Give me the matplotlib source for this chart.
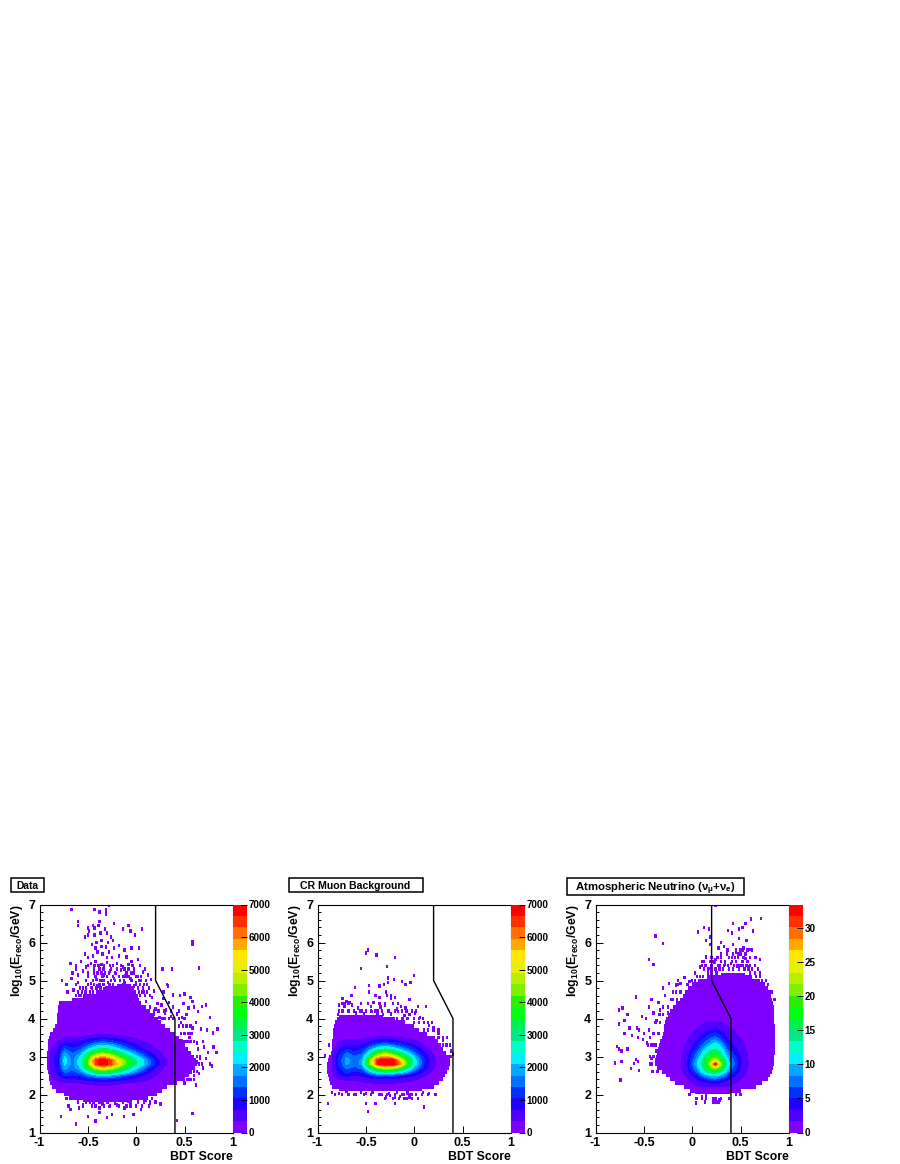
import numpy as np
import matplotlib as mpl
mpl.use('Agg')
import matplotlib.pyplot as plt
import matplotlib.ticker as ticker
from matplotlib.patches import Rectangle

mpl.rcParams['font.family'] = 'Liberation Sans'
mpl.rcParams['font.weight'] = 'bold'
mpl.rcParams['mathtext.fontset'] = 'custom'
mpl.rcParams['mathtext.rm'] = 'Liberation Sans:bold'
mpl.rcParams['mathtext.it'] = 'Liberation Sans:bold'
mpl.rcParams['mathtext.bf'] = 'Liberation Sans:bold'
mpl.rcParams['mathtext.fallback'] = 'cm'

# ROOT palette, one colour per contour band (bottom to top of the colour bar)
palette = ['#7F00FF', '#5000FF', '#2000FF', '#0030FF', '#0070FF', '#00A8FF', '#00F0FF',
           '#00FFC8', '#00E888', '#00F050', '#00FF10', '#28F000', '#80F000', '#B8F000',
           '#E8F000', '#FFE800', '#FFA800', '#FF7000', '#FF3000', '#FF0000']

cut_x = [0.2, 0.2, 0.4, 0.4]
cut_y = [7, 5, 4, 1]

# --- Data ---
data_rows = [4.9, 4.8, 4.7, 4.6, 4.5, 4.4, 4.3, 4.2, 4.1, 4.0, 3.9, 3.8, 3.7, 3.6, 3.5, 3.4, 3.3, 3.2, 3.1,
             3.0, 2.9, 2.8, 2.7, 2.6, 2.5, 2.4, 2.3, 2.2, 2.1, 2.0, 1.9, 1.8]
data_left = [-0.2, -0.32, -0.42, -0.55, -0.66, -0.8, -0.81, -0.81, -0.82, -0.82, -0.82, -0.84, -0.86, -0.89, -0.9, -0.91,
             -0.91, -0.91, -0.92, -0.92, -0.92, -0.92, -0.92, -0.91, -0.9, -0.9, -0.89, -0.87, -0.83, -0.75, -0.7, -0.55]
data_right = [-0.05, -0.02, 0.0, 0.02, 0.03, 0.05, 0.1, 0.14, 0.18, 0.22, 0.26, 0.3, 0.35, 0.4, 0.44, 0.48,
              0.5, 0.53, 0.57, 0.6, 0.62, 0.62, 0.61, 0.58, 0.55, 0.5, 0.42, 0.32, 0.27, 0.21, 0.12, -0.1]
data_xc = [-0.9, -0.8, -0.74, -0.66, -0.58, -0.5, -0.42, -0.34, -0.26, -0.18, -0.1, -0.02, 0.06, 0.14, 0.22, 0.3, 0.4]
data_yc = [2.2, 2.3, 2.4, 2.5, 2.6, 2.7, 2.8, 2.9, 3.0, 3.1, 3.2, 3.3, 3.4, 3.5, 3.6]
data_z = [
    [100, 150, 180, 180, 200, 250, 280, 300, 280, 250, 220, 180, 150, 120, 100, 80, 50],
    [150, 250, 300, 300, 350, 400, 420, 450, 420, 380, 340, 300, 250, 200, 160, 120, 60],
    [200, 500, 650, 650, 700, 850, 950, 1000, 950, 850, 750, 620, 480, 350, 220, 140, 80],
    [250, 700, 1100, 1000, 1100, 1500, 1900, 2100, 1900, 1600, 1250, 950, 700, 480, 300, 180, 90],
    [280, 800, 1500, 1300, 1600, 2500, 3300, 3600, 3300, 2900, 2400, 1800, 1200, 750, 450, 220, 100],
    [300, 900, 1900, 1500, 2100, 3400, 4800, 5300, 4900, 4100, 3200, 2400, 1700, 1000, 550, 280, 120],
    [320, 950, 2200, 1600, 2300, 4000, 6400, 7000, 6400, 5200, 4000, 3000, 2300, 1500, 800, 400, 150],
    [320, 1000, 2300, 1600, 2300, 4000, 6500, 7000, 6300, 5000, 4000, 3000, 2300, 1500, 800, 400, 150],
    [300, 950, 2100, 1500, 2100, 3500, 5300, 5600, 5000, 4100, 3200, 2400, 1700, 1000, 550, 280, 110],
    [280, 800, 1800, 1350, 1700, 2800, 3800, 4200, 3700, 3000, 2400, 1800, 1200, 750, 450, 220, 90],
    [250, 650, 1400, 1100, 1300, 2000, 2700, 3000, 2700, 2100, 1600, 1100, 750, 480, 290, 170, 80],
    [200, 500, 1000, 850, 950, 1400, 1900, 2100, 1900, 1500, 1100, 800, 540, 360, 220, 130, 60],
    [150, 380, 650, 600, 650, 900, 1200, 1300, 1150, 950, 720, 520, 360, 250, 160, 100, 50],
    [100, 200, 350, 330, 360, 500, 620, 650, 600, 500, 400, 300, 220, 150, 100, 60, 30],
    [50, 100, 150, 150, 170, 220, 260, 280, 250, 220, 170, 130, 90, 60, 40, 30, 20],
]
data_px = [-0.67, -0.43, -0.38, -0.31, -0.31, -0.24, -0.28, -0.6, -0.6, -0.5, -0.49, -0.5, -0.53, -0.45, -0.43, -0.39, -0.38, -0.43,
           -0.37, -0.32, -0.3, -0.26, -0.23, -0.14, -0.08, -0.06, 0.06, -0.01, -0.24, -0.29, -0.36, -0.41, -0.46, -0.42, -0.36, -0.31,
           -0.28, -0.23, -0.18, -0.12, -0.05, 0.03, -0.53, -0.5, -0.45, -0.4, -0.35, -0.3, -0.25, -0.18, -0.1, -0.05, 0.02, 0.58, 0.58,
           0.65, 0.27, 0.37, 0.32, -0.68, -0.62, -0.57, -0.52, -0.47, -0.42, -0.36, -0.3, -0.24, -0.2, -0.14, -0.08, -0.02, 0.04, 0.09,
           -0.66, -0.6, -0.55, -0.5, -0.44, -0.38, -0.33, -0.27, -0.21, -0.16, -0.11, -0.05, 0.02, 0.07, 0.12, -0.77, -0.72, -0.67, -0.6,
           -0.52, -0.47, -0.41, -0.35, -0.29, -0.23, -0.17, -0.12, -0.06, 0.0, 0.05, 0.11, 0.15, -0.71, -0.65, -0.58, -0.53, -0.47, -0.4,
           -0.33, -0.27, -0.2, -0.14, -0.07, -0.02, 0.08, 0.13, 0.18,
           # right tail
           0.1, 0.16, 0.22, 0.28, 0.34, 0.14, 0.2, 0.26, 0.31, 0.38, 0.44, 0.49, 0.54, 0.18, 0.24, 0.3, 0.36, 0.42, 0.47, 0.52, 0.6, 0.64,
           0.28, 0.33, 0.38, 0.45, 0.5, 0.56, 0.58, 0.68, 0.72, 0.76, 0.46, 0.52, 0.58, 0.62, 0.67, 0.73, 0.79, 0.84, 0.55, 0.63, 0.69,
           0.64, 0.7, 0.74, 0.8, 0.83, 0.66, 0.72, 0.76, 0.63, 0.69, 0.78, 0.6, 0.65, 0.55, 0.62, 0.5, 0.48, 0.42, 0.58,
           # bottom fringe
           -0.78, -0.7, -0.68, -0.62, -0.59, -0.5, -0.42, -0.38, -0.38, -0.3, -0.25, -0.13, -0.03, 0.05, 0.25, 0.14, -0.55, -0.48, -0.42,
           -0.35, -0.28, -0.2, -0.12, -0.06, 0.02, 0.1, -0.52, -0.45, -0.36, -0.29, -0.22, -0.15, -0.08, 0.0, 0.08, 0.15]
data_py = [6.87, 6.87, 6.8, 6.85, 6.75, 7.0, 6.98, 6.55, 6.45, 6.38, 6.3, 6.2, 6.15, 6.45, 6.38, 6.45, 6.55, 6.2,
           6.25, 6.35, 6.25, 6.15, 6.5, 6.35, 6.45, 6.3, 6.35, 6.2, 6.05, 6.0, 6.05, 6.0, 5.95, 5.85, 5.9, 5.88,
           5.75, 5.85, 5.92, 5.8, 5.85, 5.85, 5.7, 5.6, 5.65, 5.75, 5.7, 5.6, 5.6, 5.65, 5.62, 5.5, 5.55, 6.02, 5.95,
           5.33, 5.3, 5.3, 4.9, 5.45, 5.4, 5.5, 5.35, 5.45, 5.5, 5.42, 5.48, 5.4, 5.45, 5.35, 5.42, 5.3, 5.4, 5.3,
           5.2, 5.15, 5.25, 5.1, 5.2, 5.3, 5.15, 5.25, 5.18, 5.28, 5.12, 5.2, 5.1, 5.22, 5.15, 5.0, 4.9, 5.05, 4.95,
           5.0, 4.92, 5.02, 5.0, 4.95, 5.05, 5.0, 4.93, 5.05, 4.95, 5.0, 4.9, 5.02, 4.7, 4.75, 4.8, 4.7, 4.82, 4.85,
           4.78, 4.9, 4.82, 4.88, 4.8, 4.85, 4.7, 4.8, 4.72,
           4.45, 4.55, 4.4, 4.52, 4.42, 4.3, 4.25, 4.35, 4.22, 4.3, 4.2, 4.4, 4.28, 4.1, 4.02, 4.15, 4.05, 4.12, 4.02, 4.1, 4.3, 4.18,
           4.7, 4.85, 4.62, 4.6, 4.65, 4.55, 4.45, 4.32, 4.35, 4.02, 3.9, 3.8, 3.75, 3.9, 3.72, 3.7, 3.62, 3.72, 3.5, 3.35, 3.4,
           3.2, 3.25, 3.1, 3.25, 3.1, 2.95, 2.95, 2.8, 2.85, 2.7, 2.75, 2.5, 2.55, 2.4, 2.25, 2.3, 2.42,
           1.32, 1.5, 1.42, 1.7, 1.6, 1.22, 1.65, 1.42, 1.3, 1.52, 1.65, 1.4, 1.48, 1.42, 1.48, 1.6, 1.75, 1.78, 1.72,
           1.8, 1.7, 1.75, 1.68, 1.72, 1.65, 1.7, 1.9, 1.85, 1.88, 1.8, 1.85, 1.8, 1.78, 1.85, 1.82, 1.9]
# sparse cells along the body edge, one list per log10(E) row
data_fringe_y = [5.4, 5.3, 5.2, 5.1, 5.0, 4.9, 4.8, 4.7, 4.6, 4.2, 4.0, 3.8, 3.6, 3.4, 3.0, 2.8, 2.6, 2.4, 1.9, 1.8, 1.7]
data_fringe_x = [[-0.5, -0.43, -0.39, -0.33, -0.27, -0.16, -0.04],
                 [-0.62, -0.44, -0.38, -0.34, -0.26, -0.2, -0.12, -0.08],
                 [-0.5, -0.4, -0.36, -0.32, -0.28, -0.22, -0.1, -0.03],
                 [-0.42, -0.35, -0.3, -0.24, -0.18, -0.14, -0.08, 0.0, 0.05],
                 [-0.45, -0.37, -0.33, -0.26, -0.22, -0.17, -0.13, -0.05, 0.03, 0.1],
                 [-0.62, -0.5, -0.44, -0.38, -0.34, -0.28, -0.24, 0.0, 0.04, 0.08],
                 [-0.55, -0.52, -0.46, -0.41, -0.37, 0.02, 0.07],
                 [-0.6, -0.56, -0.52, -0.48, -0.45, 0.03, 0.06, 0.11],
                 [-0.62, -0.59, -0.57, 0.04, 0.09, 0.14],
                 [0.18, 0.23, 0.29, 0.36],
                 [0.27, 0.3, 0.34, 0.38, 0.44, 0.5],
                 [0.44, 0.48, 0.52, 0.56],
                 [0.46, 0.5, 0.54, 0.57],
                 [0.5, 0.53, 0.56, 0.6],
                 [0.63, 0.66],
                 [0.62, 0.65, 0.68],
                 [0.6, 0.63],
                 [0.53, 0.56, 0.6],
                 [-0.72, -0.66, -0.6, -0.54, -0.48, -0.3, -0.2, -0.02, 0.05, 0.16],
                 [-0.6, -0.52, -0.44, -0.38, -0.3, -0.22, -0.14, -0.06, 0.02, 0.08, 0.14, 0.2],
                 [-0.55, -0.46, -0.33, -0.27, -0.18, -0.1, 0.0, 0.06, 0.13]]

# --- CR Muon Background ---
muon_rows = [4.1, 4.0, 3.9, 3.8, 3.7, 3.6, 3.5, 3.4, 3.3, 3.2, 3.1, 3.0, 2.9, 2.8, 2.7, 2.6, 2.5, 2.4, 2.3, 2.2, 2.1]
muon_left = [-0.78, -0.8, -0.82, -0.83, -0.84, -0.84, -0.84, -0.85, -0.85, -0.85, -0.86, -0.88, -0.89, -0.9, -0.9, -0.9, -0.89, -0.88, -0.87, -0.85, -0.78]
muon_right = [-0.32, -0.2, -0.1, 0.0, 0.05, 0.13, 0.18, 0.25, 0.28, 0.3, 0.33, 0.37, 0.37, 0.37, 0.36, 0.34, 0.32, 0.3, 0.26, 0.2, 0.08]
muon_xc = [-0.85, -0.78, -0.7, -0.62, -0.54, -0.46, -0.38, -0.3, -0.22, -0.14, -0.06, 0.02, 0.1, 0.18, 0.26, 0.34]
muon_yc = [2.2, 2.3, 2.4, 2.5, 2.6, 2.7, 2.8, 2.9, 3.0, 3.1, 3.2, 3.3, 3.4, 3.5, 3.6]
muon_z = [
    [60, 90, 100, 120, 130, 150, 170, 180, 170, 160, 140, 120, 90, 70, 50, 30],
    [120, 200, 220, 250, 300, 340, 370, 380, 360, 320, 280, 220, 170, 110, 60, 30],
    [180, 340, 400, 380, 450, 560, 620, 650, 620, 560, 450, 360, 240, 150, 80, 40],
    [250, 600, 800, 650, 750, 1000, 1250, 1300, 1200, 1050, 850, 620, 400, 220, 110, 50],
    [280, 800, 1200, 1000, 1100, 2000, 2700, 3000, 2800, 2300, 1800, 1100, 650, 330, 150, 60],
    [300, 950, 1500, 1300, 1500, 3000, 4300, 4800, 4700, 3900, 2800, 1700, 900, 430, 180, 70],
    [320, 1100, 1800, 1500, 1900, 4200, 6600, 7000, 7000, 5800, 3600, 2100, 1050, 500, 220, 90],
    [320, 1100, 1900, 1600, 1800, 4300, 6700, 7000, 6900, 5400, 3500, 2100, 1100, 500, 220, 90],
    [300, 1000, 1700, 1400, 1700, 3100, 5200, 5800, 5100, 3900, 3000, 1800, 950, 430, 200, 70],
    [260, 800, 1400, 1100, 1300, 2400, 3700, 4300, 3600, 2900, 2100, 1300, 750, 350, 150, 50],
    [220, 600, 1000, 900, 1000, 1700, 2500, 2800, 2500, 1900, 1400, 950, 520, 260, 110, 30],
    [170, 420, 700, 650, 720, 1100, 1500, 1700, 1500, 1200, 900, 620, 340, 170, 70, 20],
    [120, 300, 450, 420, 480, 680, 850, 950, 850, 700, 520, 380, 200, 100, 50, 10],
    [60, 150, 220, 200, 230, 330, 420, 450, 400, 340, 260, 180, 100, 50, 20, 0],
    [30, 60, 90, 90, 100, 140, 170, 190, 170, 140, 100, 70, 40, 20, 10, 0],
]
muon_px = [-0.5, -0.48, -0.39, -0.2, -0.28, -0.55, -0.27, -0.0, -0.27, -0.21, -0.13, -0.09, -0.04, -0.47, -0.36, -0.31, -0.61,
           -0.47, -0.29, -0.24, -0.36, -0.42, -0.2, -0.05, -0.74, -0.7, -0.67, -0.78, -0.75, -0.72, -0.64, -0.58, -0.54, -0.45, -0.4,
           -0.35, -0.3, -0.26, -0.18, -0.14, -0.09, 0.04, 0.12, -0.79, -0.6, -0.52, -0.44, -0.38, -0.32, -0.24, -0.17, -0.1, -0.05, 0.01, 0.06,
           0.15, 0.2, 0.25, 0.3, 0.34, 0.38, 0.4, -0.92, -0.88, -0.85, -0.82, -0.78, -0.7, -0.62, -0.55, -0.5, -0.43, -0.33, -0.26, -0.18, -0.11,
           -0.07, -0.02, 0.09, 0.15, -0.29, -0.25, -0.2, -0.15, -0.1, -0.05, -0.5, -0.4, -0.89, 0.1, -0.2, -0.48]
muon_py = [5.72, 5.8, 5.67, 5.6, 5.37, 5.32, 5.07, 5.13, 4.95, 5.02, 4.97, 4.9, 4.95, 4.87, 4.85, 4.9, 4.82,
           4.7, 4.7, 4.52, 4.55, 4.42, 4.55, 4.5, 4.52, 4.45, 4.42, 4.35, 4.4, 4.32, 4.35, 4.28, 4.2, 4.32, 4.2,
           4.3, 4.35, 4.2, 4.25, 4.32, 4.28, 4.32, 4.32, 4.1, 4.15, 4.12, 4.18, 4.12, 4.1, 4.12, 4.18, 4.08, 4.1, 4.15, 4.02,
           3.82, 3.75, 3.6, 3.42, 3.3, 3.15, 3.07, 3.03, 3.3, 2.05, 2.0, 2.02, 2.08, 2.0, 2.05, 2.02, 2.06, 2.0, 2.02, 2.06, 2.0,
           2.04, 2.0, 2.06, 2.02, 1.93, 1.97, 1.92, 1.95, 1.9, 1.93, 1.77, 1.77, 1.77, 1.67, 1.77, 1.56]
muon_fringe_y = [4.6, 4.4, 4.2, 4.0, 3.9, 3.7, 3.5, 3.3, 3.0, 2.0, 1.9]
muon_fringe_x = [[-0.65, -0.4, -0.28, -0.24],
                 [-0.72, -0.68, -0.55, -0.48, -0.36, -0.3, -0.22, -0.17],
                 [-0.78, -0.74, -0.68, -0.62, -0.56, -0.5, -0.45, -0.38, -0.33, -0.27, -0.2, -0.13, -0.08, -0.02, 0.02],
                 [-0.18, -0.12, -0.07, 0.0, 0.05, 0.09],
                 [0.0, 0.05, 0.1, 0.14, 0.18],
                 [0.1, 0.14, 0.2, 0.25],
                 [0.2, 0.25, 0.3, 0.34],
                 [0.3, 0.33, 0.37],
                 [0.38],
                 [-0.75, -0.68, -0.6, -0.52, -0.45, -0.36, -0.28, -0.2, -0.12, -0.05, 0.02, 0.08, 0.14, 0.22],
                 [-0.3, -0.22, -0.16, -0.08, -0.02, 0.04]]

# --- Atmospheric Neutrino ---
nu_rows = [5.2, 5.1, 5.0, 4.9, 4.8, 4.7, 4.6, 4.5, 4.4, 4.3, 4.2, 4.1, 4.0, 3.9, 3.8, 3.7, 3.6, 3.5, 3.4, 3.3, 3.2, 3.1,
           3.0, 2.9, 2.8, 2.7, 2.6, 2.5, 2.4, 2.3, 2.2, 2.1, 2.0]
nu_left = [0.3, 0.15, 0.06, 0.0, -0.04, -0.08, -0.1, -0.13, -0.17, -0.2, -0.23, -0.25, -0.27, -0.28, -0.29, -0.29, -0.3, -0.31, -0.33, -0.34, -0.35, -0.36,
           -0.37, -0.38, -0.39, -0.36, -0.31, -0.27, -0.23, -0.18, -0.09, -0.02, 0.03]
nu_right = [0.55, 0.62, 0.7, 0.75, 0.78, 0.8, 0.81, 0.82, 0.83, 0.84, 0.84, 0.85, 0.85, 0.85, 0.86, 0.86, 0.86, 0.86, 0.86, 0.86, 0.86, 0.86,
            0.85, 0.85, 0.84, 0.83, 0.82, 0.8, 0.78, 0.72, 0.66, 0.5, 0.39]
nu_xc = [-0.15, -0.05, 0.03, 0.08, 0.12, 0.16, 0.2, 0.24, 0.28, 0.32, 0.36, 0.42, 0.5, 0.58, 0.66]
nu_yc = [2.2, 2.35, 2.5, 2.6, 2.7, 2.8, 2.9, 3.0, 3.1, 3.2, 3.35, 3.5, 3.7, 3.9]
nu_z = [
    [0.3, 0.8, 1.4, 1.6, 1.7, 1.8, 1.9, 1.9, 1.8, 1.7, 1.6, 1.3, 0.9, 0.6, 0.3],
    [0.5, 1.3, 2.2, 2.8, 3.4, 3.8, 4.2, 4.4, 4.0, 3.6, 3.0, 2.2, 1.4, 0.8, 0.4],
    [0.7, 1.9, 4.0, 6.0, 7.5, 9.0, 10.0, 10.5, 9.5, 8.0, 6.0, 3.8, 2.2, 1.1, 0.5],
    [0.8, 2.4, 6.0, 9.0, 12.0, 14.0, 15.0, 16.0, 14.0, 12.0, 9.0, 5.2, 2.8, 1.3, 0.6],
    [0.9, 2.8, 7.5, 11.0, 14.0, 17.0, 20.0, 22.0, 19.0, 15.0, 11.0, 6.5, 3.2, 1.5, 0.6],
    [0.9, 3.0, 8.5, 12.0, 15.0, 19.0, 24.0, 33.0, 24.0, 18.0, 12.0, 7.5, 3.5, 1.6, 0.7],
    [0.9, 3.0, 8.0, 11.5, 14.5, 18.0, 21.0, 23.0, 20.0, 16.0, 11.0, 7.0, 3.4, 1.6, 0.7],
    [0.9, 2.8, 7.0, 10.0, 13.0, 16.0, 18.0, 19.0, 17.0, 13.0, 9.5, 6.0, 3.2, 1.5, 0.6],
    [0.8, 2.5, 6.0, 8.5, 11.0, 13.0, 15.0, 16.0, 14.0, 11.0, 8.5, 5.0, 2.8, 1.4, 0.5],
    [0.7, 2.2, 4.5, 7.0, 9.0, 11.0, 12.5, 13.0, 12.0, 9.5, 6.5, 4.0, 2.5, 1.3, 0.5],
    [0.6, 1.8, 3.5, 5.0, 6.5, 8.0, 9.5, 10.5, 9.0, 7.0, 5.0, 3.0, 2.0, 1.1, 0.4],
    [0.5, 1.4, 2.3, 3.2, 4.5, 5.5, 6.5, 7.0, 6.0, 4.5, 3.2, 2.2, 1.6, 0.9, 0.4],
    [0.3, 0.9, 1.6, 2.0, 2.5, 3.0, 3.5, 3.8, 3.3, 2.7, 2.2, 1.7, 1.2, 0.7, 0.3],
    [0.2, 0.5, 1.0, 1.2, 1.5, 1.7, 1.9, 2.0, 1.8, 1.5, 1.2, 1.0, 0.7, 0.4, 0.2],
]
nu_px = [0.24, 0.71, 0.61, 0.55, 0.42, 0.48, 0.52, 0.37, 0.41, 0.63, 0.12, 0.06, 0.17, 0.18, 0.14, 0.19, -0.38, -0.3, -0.45, -0.4,
         0.48, 0.56, 0.42, 0.33, 0.3, 0.27, 0.37, 0.45, 0.53, 0.6, 0.66, 0.7, 0.2, 0.1, 0.14, 0.24, 0.3, 0.36, 0.41, 0.5, 0.55, 0.6, 0.65,
         0.08, 0.13, 0.18, 0.23, 0.28, 0.34, 0.4, 0.46, 0.52, 0.58, 0.68, -0.15, -0.12, -0.08, -0.03, 0.03, -0.3, -0.24, -0.17, -0.2, -0.28,
         -0.35, -0.33, -0.25, -0.42, -0.45, -0.48, -0.4, -0.37, -0.52, -0.45, -0.5, -0.57, -0.58, -0.72, -0.67, -0.76, -0.7, -0.65, -0.76, -0.7,
         -0.62, -0.56, -0.55, -0.51, -0.47, -0.44, -0.78, -0.76, -0.73, -0.67, -0.8, -0.73, -0.58, -0.56, -0.6, -0.63, -0.55, -0.74, -0.4, -0.37,
         -0.42, -0.32, 0.04, 0.1, 0.14, 0.22, 0.28, 0.04, 0.24, 0.3]
nu_py = [6.97, 6.63, 6.62, 6.5, 6.5, 6.35, 6.4, 6.32, 6.25, 6.3, 6.4, 6.28, 6.35, 6.15, 6.05, 5.95, 6.17, 5.97, 5.55, 5.42,
         6.1, 6.05, 5.95, 5.9, 6.0, 5.85, 5.8, 5.75, 5.85, 5.82, 5.6, 5.55, 5.6, 5.5, 5.62, 5.55, 5.62, 5.7, 5.6, 5.72, 5.58, 5.6, 5.4,
         5.35, 5.4, 5.32, 5.48, 5.38, 5.42, 5.45, 5.38, 5.4, 5.35, 5.3, 5.0, 4.92, 5.08, 4.98, 5.2, 4.8, 4.92, 4.88, 4.7, 4.6,
         4.42, 4.22, 4.15, 4.5, 4.3, 4.0, 4.15, 3.95, 4.05, 3.7, 3.6, 3.75, 4.57, 4.28, 4.1, 4.22, 3.95, 3.75, 3.85, 3.6,
         3.55, 3.5, 3.7, 3.45, 3.35, 3.5, 3.27, 3.2, 3.15, 3.2, 2.83, 2.87, 2.92, 2.87, 2.82, 2.68, 2.63, 2.38, 3.3, 3.15,
         2.95, 3.05, 1.9, 1.95, 1.97, 1.8, 1.85, 1.78, 1.9, 2.05]
nu_fringe_y = [5.8, 5.7, 5.6, 5.5, 5.4, 5.3, 5.2, 5.1, 5.0, 4.9, 4.7, 4.5, 4.3, 4.1, 3.9, 3.6, 3.3, 3.0, 2.8, 2.6, 2.0, 1.9, 1.8]
nu_fringe_x = [[0.36, 0.45, 0.5, 0.52, 0.57, 0.62],
               [0.3, 0.36, 0.42, 0.47, 0.5, 0.55],
               [0.2, 0.26, 0.3, 0.38, 0.44, 0.47, 0.53, 0.6, 0.65],
               [0.12, 0.18, 0.22, 0.3, 0.34, 0.41, 0.45, 0.52, 0.57],
               [0.1, 0.14, 0.2, 0.27, 0.33, 0.37, 0.43, 0.49, 0.56, 0.6],
               [0.12, 0.16, 0.2, 0.24, 0.28, 0.32, 0.38, 0.42, 0.48, 0.54, 0.58, 0.62],
               [0.16, 0.2, 0.25, 0.6, 0.65, 0.7],
               [0.05, 0.08, 0.11, 0.66, 0.7],
               [0.0, 0.03, 0.72, 0.76],
               [-0.15, -0.05, 0.78],
               [-0.17, -0.12, 0.82],
               [-0.22, -0.2, -0.16, 0.85],
               [-0.3, -0.25],
               [-0.34, -0.3],
               [-0.38, -0.33],
               [-0.4, -0.35],
               [-0.46, -0.42, -0.38],
               [-0.44, -0.4],
               [-0.44, -0.42],
               [-0.41, -0.36],
               [-0.03, 0.45, 0.5],
               [0.05, 0.1, 0.14, 0.22, 0.3, 0.38],
               [0.13, 0.24, 0.27]]

colorbar_labels = [0, 1000, 2000, 3000, 4000, 5000, 6000, 7000]
nu_colorbar_labels = [0, 5, 10, 15, 20, 25, 30]
max_counts = 7000.0
max_counts_nu = 33.4


def box(x0, y0, x1, y1):
    # pixel box of the 900x1164 picture to figure fractions
    return [x0 / 900.0, 1 - y1 / 1164.0, (x1 - x0) / 900.0, (y1 - y0) / 1164.0]


def plot_panel(left, title, title_box, title_size, rows, row_l, row_r, xc, yc, z, px, py, fringe_y, fringe_x, zmax, zticks):
    ax = fig.add_axes(box(left, 904.5, left + 193.5, 1132.5))
    levels = np.linspace(0, zmax, 21)

    ax.fill_betweenx(rows, row_l, row_r, step='mid', color=palette[0], linewidth=0)
    # single cells outside the body
    n = min(len(px), len(py))
    px = px[:n]
    py = py[:n]
    for fy, fx in zip(fringe_y, fringe_x):
        px = px + fx
        py = py + [fy] * len(fx)
    ax.bar(px, 0.09, width=0.024, bottom=np.array(py) - 0.045, color=palette[0], linewidth=0)
    ax.contourf(xc, yc, np.array(z), levels=levels[1:], colors=palette[1:])
    ax.plot(cut_x, cut_y, color='black', lw=1.0)

    ax.set_xlim(-1, 1)
    ax.set_ylim(1, 7)
    ax.xaxis.set_major_locator(ticker.MultipleLocator(0.5))
    ax.yaxis.set_major_locator(ticker.MultipleLocator(1))
    ax.yaxis.set_minor_locator(ticker.MultipleLocator(0.2))
    ax.xaxis.set_major_formatter(ticker.FormatStrFormatter('%g'))
    ax.tick_params(which='major', direction='in', length=5, width=0.7, labelsize=9, pad=3)
    ax.tick_params(which='minor', direction='in', length=2.5, width=0.7)
    for s in ax.spines.values():
        s.set_linewidth(0.8)
    ax.spines['right'].set_color('#555555')
    ax.set_xlabel('BDT Score', loc='right', fontsize=8.8, fontweight='bold', labelpad=1.5)
    ax.set_ylabel(r'log$_{10}$(E$_{reco}$/GeV)', loc='top', fontsize=8.8, fontweight='bold', labelpad=2)

    # colour bar
    cax = fig.add_axes(box(left + 193.5, 904.5, left + 207, 1132.5))
    cax.pcolormesh([0, 1], levels, np.arange(20).reshape(20, 1), cmap=mpl.colors.ListedColormap(palette), shading='flat')
    cax.set_xticks([])
    cax.yaxis.tick_right()
    cax.set_yticks(zticks)
    cax.tick_params(axis='y', direction='in', length=4, width=0.7, labelsize=7.1, pad=1.5)
    for s in cax.spines.values():
        s.set_visible(False)

    # title box
    x0, y0, x1, y1 = title_box
    fig.add_artist(Rectangle((x0 / 900.0, 1 - y1 / 1164.0), (x1 - x0) / 900.0, (y1 - y0) / 1164.0,
                             transform=fig.transFigure, facecolor='white', edgecolor='black', lw=1.1))
    fig.text((x0 + x1) / 2 / 900.0, 1 - (y0 + y1) / 2 / 1164.0, title, ha='center', va='center_baseline',
             fontsize=title_size, fontweight='bold')


fig = plt.figure(figsize=(9, 11.64), dpi=100)

plot_panel(39.5, 'Data', (11, 878, 43.5, 892), 7.4, data_rows, data_left, data_right,
           data_xc, data_yc, data_z, data_px, data_py, data_fringe_y, data_fringe_x, max_counts, colorbar_labels)
plot_panel(317.5, 'CR Muon Background', (288.5, 877.5, 422.5, 892), 7.6, muon_rows, muon_left, muon_right,
           muon_xc, muon_yc, muon_z, muon_px, muon_py, muon_fringe_y, muon_fringe_x, max_counts, colorbar_labels)
plot_panel(595.5, r'Atmospheric Neutrino ($\nu_{\mu}$+$\nu_{e}$)', (567, 877.5, 744, 895), 8.2, nu_rows, nu_left, nu_right,
           nu_xc, nu_yc, nu_z, nu_px, nu_py, nu_fringe_y, nu_fringe_x, max_counts_nu, nu_colorbar_labels)

fig.savefig('out.png', dpi=100)
